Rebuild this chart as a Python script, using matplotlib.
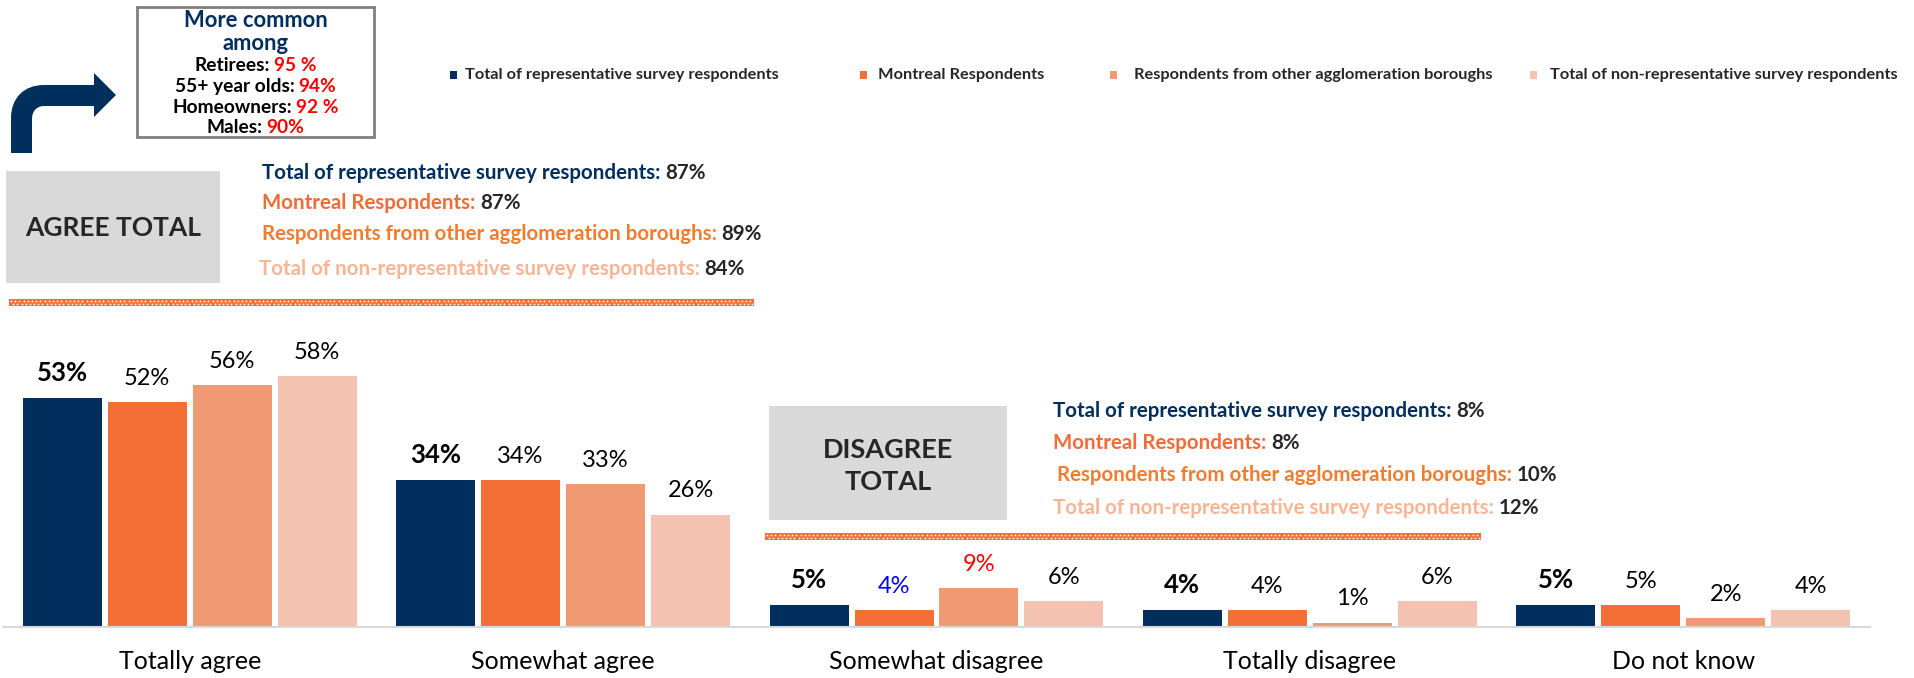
import matplotlib
matplotlib.use('Agg')
import matplotlib.pyplot as plt
from matplotlib.patches import Rectangle, PathPatch
from matplotlib.path import Path
import numpy as np

plt.rcParams['font.family'] = ['Lato', 'DejaVu Sans']

# ---- data ----
categories = ['Totally agree', 'Somewhat agree', 'Somewhat disagree',
              'Totally disagree', 'Do not know']
series_names = ['Total of representative survey respondents',
                'Montreal Respondents',
                'Respondents from other agglomeration boroughs',
                'Total of non-representative survey respondents']
rep_total = [53, 34, 5, 4, 5]
montreal = [52, 34, 4, 4, 5]
other_boroughs = [56, 33, 9, 1, 2]
non_rep = [58, 26, 6, 6, 4]
agree_totals = [87, 87, 89, 84]
disagree_totals = [8, 8, 10, 12]
common_groups = ['Retirees:', '55+ year olds:', 'Homeowners:', 'Males:']
common_values = ['95 %', '94%', '92 %', '90%']

# palette
navy = '#002E5D'
orange = '#F36F36'
salmon = '#EF9A73'
light = '#F4C2B1'
grey_box = '#D9D9D9'
dark = '#262626'
bar_colors = [navy, orange, salmon, light]
total_colors = [navy, '#F26B35', '#F07C30', '#F8B595']
# individually coloured value labels: (series, category) -> colour
label_override = {(1, 2): '#0000FF', (2, 2): '#FF0000'}

W, H = 1914, 678
fig = plt.figure(figsize=(W / 100, H / 100), dpi=100)
fig.patch.set_facecolor('white')

# ---- main bar chart ----
ax = fig.add_axes([3 / W, 51 / H, 1867 / W, 432 / H])
x = np.arange(len(categories))
step, width = 0.2276, 0.2116
all_series = [rep_total, montreal, other_boroughs, non_rep]
for i, vals in enumerate(all_series):
    xs = x + (i - 1.5) * step
    ax.bar(xs, vals, width=width, color=bar_colors[i], zorder=2)
    for j, v in enumerate(vals):
        bold = i == 0
        ax.annotate(f'{v}%', (xs[j], v), xytext=(0, 9.5), textcoords='offset points',
                    ha='center', va='bottom', fontsize=18.5 if bold else 17,
                    fontweight='bold' if bold else 'normal',
                    color=label_override.get((i, j), 'black'))

ax.set_xlim(-0.5, 4.5)
ax.set_ylim(0, 100)
for s in ['top', 'right', 'left']:
    ax.spines[s].set_visible(False)
ax.spines['bottom'].set_color('#D9D9D9')
ax.spines['bottom'].set_linewidth(1.5)
ax.set_yticks([])
ax.set_xticks(x)
ax.set_xticklabels(categories, fontsize=18, color='black')
ax.tick_params(axis='x', length=0, pad=16.5)

# ---- overlay in pixel coordinates for the annotations ----
ov = fig.add_axes([0, 0, 1, 1], zorder=5)
ov.set_xlim(0, W)
ov.set_ylim(H, 0)
ov.axis('off')
renderer = fig.canvas.get_renderer()


def rich(x0, y, parts, size, ha='left', weight='bold'):
    arts = []
    cx = x0
    for k, (s, c) in enumerate(parts):
        t = ov.text(cx, y, s, color=c, fontsize=size, fontweight=weight,
                    ha='left', va='baseline')
        cx += t.get_window_extent(renderer).width
        if k < len(parts) - 1:
            cx += size * 0.22 * 100 / 72
        arts.append(t)
    if ha == 'center':
        sh = (cx - x0) / 2
        for t in arts:
            t.set_x(t.get_position()[0] - sh)


def band(x0, x1, y):
    ov.add_patch(Rectangle((x0, y), x1 - x0, 7, fc=orange, ec='none'))
    xs = np.arange(x0 + 2, x1 - 1, 4.2)
    ov.plot(xs, np.full(len(xs), y + 2), 'o', ms=1.3, color='white', mew=0)
    ov.plot(xs + 2.1, np.full(len(xs), y + 5), 'o', ms=1.3, color='white', mew=0)


# legend
leg_pos = [(453, 465), (863, 878), (1113, 1134), (1533, 1550)]
for (mx, tx), name, c in zip(leg_pos, series_names, bar_colors):
    ov.add_patch(Rectangle((mx - 3, 71), 7, 8, fc=c, ec='none'))
    ov.text(tx, 75, name, fontsize=11.8, fontweight='bold', color=dark,
            ha='left', va='center')

# bent arrow
verts = [(11, 153), (11, 118), (11, 98), (24, 85), (44, 85), (94, 85), (94, 73),
         (116, 95), (94, 117), (94, 106), (44, 106), (37, 106), (32, 111),
         (32, 119), (32, 153), (11, 153)]
codes = [Path.MOVETO, Path.LINETO, Path.CURVE4, Path.CURVE4, Path.CURVE4,
         Path.LINETO, Path.LINETO, Path.LINETO, Path.LINETO, Path.LINETO,
         Path.LINETO, Path.CURVE4, Path.CURVE4, Path.CURVE4, Path.LINETO,
         Path.CLOSEPOLY]
ov.add_patch(PathPatch(Path(verts, codes), fc=navy, ec='none'))

# "more common among" box
ov.add_patch(Rectangle((137, 7), 237, 130, fill=False, ec='#7F7F7F', lw=2))
ov.text(255.5, 27, 'More common', ha='center', va='baseline', fontsize=15.8,
        fontweight='bold', color=navy)
ov.text(255.5, 50, 'among', ha='center', va='baseline', fontsize=15.8,
        fontweight='bold', color=navy)
for g, v, yb in zip(common_groups, common_values, [71, 92, 113, 133]):
    rich(255.5, yb, [(g, 'black'), (v, '#FF0000')], 13.8, ha='center')

# agree total block
ov.add_patch(Rectangle((6, 171), 214, 112, fc=grey_box, ec='none'))
ov.text(113, 228, 'AGREE TOTAL', ha='center', va='center', fontsize=19,
        fontweight='bold', color=dark)
for name, tot, c, xb, yb in zip(series_names, agree_totals, total_colors,
                                [262, 262, 262, 259], [179, 209, 240, 275]):
    rich(xb, yb, [(name + ':', c), (f'{tot}%', dark)], 14.8)
band(9, 754, 299)

# disagree total block
ov.add_patch(Rectangle((769, 406), 238, 114, fc=grey_box, ec='none'))
ov.text(888, 466, 'DISAGREE\nTOTAL', ha='center', va='center', fontsize=19.5,
        fontweight='bold', color=dark, linespacing=1.45)
for name, tot, c, xb, yb in zip(series_names, disagree_totals, total_colors,
                                [1053, 1053, 1057, 1053], [417, 449, 481, 514]):
    rich(xb, yb, [(name + ':', c), (f'{tot}%', dark)], 14.8)
band(765, 1481, 533)

fig.savefig('out.png', dpi=100, facecolor='white')
